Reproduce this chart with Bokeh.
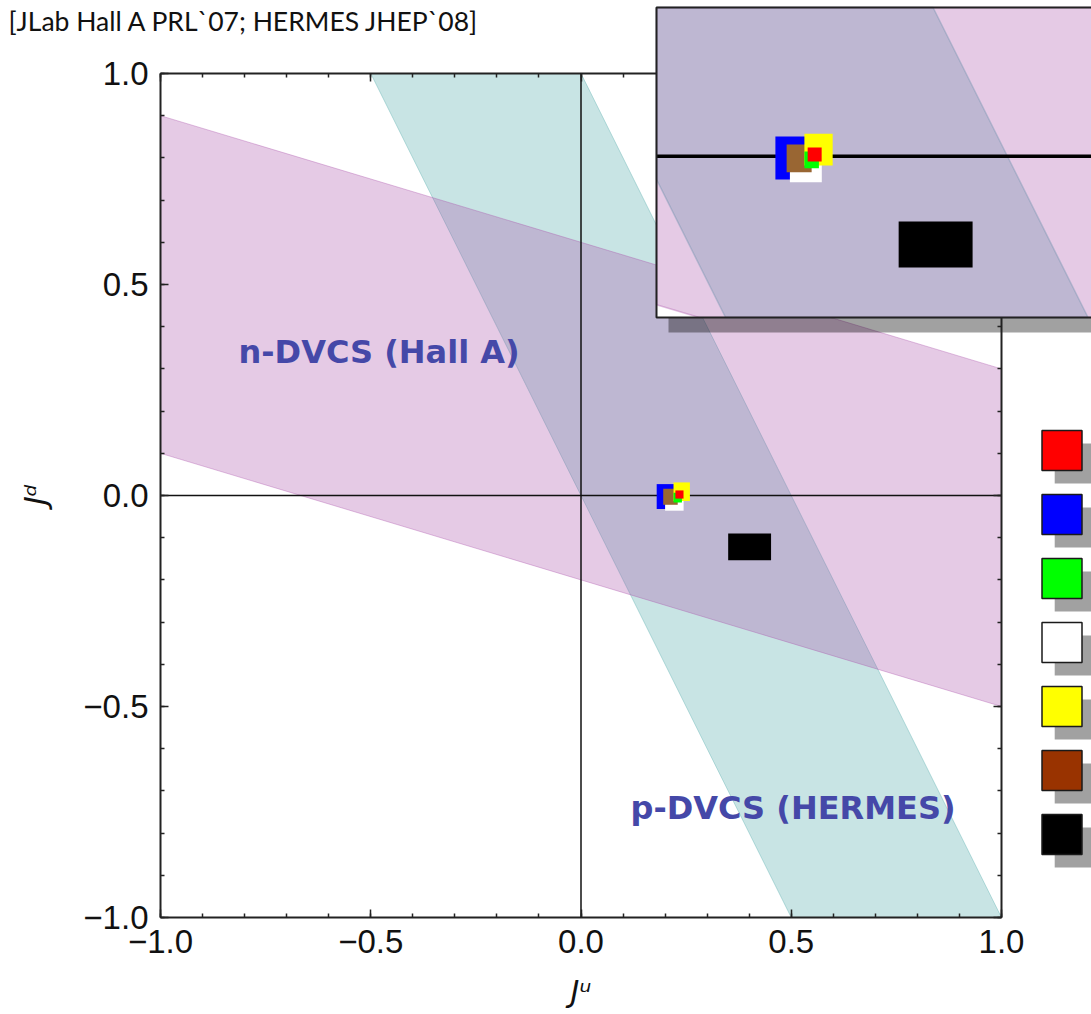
import numpy as np
from bokeh.plotting import figure
from bokeh.models import Range1d, LinearAxis, FixedTicker, CustomJSTickFormatter, Label
from bokeh.embed import file_html
from bokeh.resources import INLINE

# ---------------- data ----------------
title_text = "[JLab Hall A PRL`07; HERMES JHEP`08]"
x_title = "Jᵘ"
y_title = "Jᵈ"

# n-DVCS (Hall A) band:  J^d = slope * J^u + b,  b in intercepts
pink_slope = -0.3
pink_intercepts = [-0.2, 0.6]
# p-DVCS (HERMES) band
teal_slope = -2.0
teal_intercepts = [0.0, 1.0]

# error boxes (drawing order)
pt_colors = ["#0000ff", "#ffffff", "#996633", "#ffff00", "#00ff00", "#ff0000", "#000000"]
ju_lo = [0.180, 0.200, 0.1955, 0.220, 0.220, 0.2245, 0.350]
ju_hi = [0.240, 0.244, 0.230, 0.259, 0.240, 0.2438, 0.452]
jd_lo = [-0.032, -0.036, -0.022, -0.013, -0.0166, -0.0073, -0.1535]
jd_hi = [0.027, 0.008, 0.016, 0.031, 0.0065, 0.012, -0.090]

legend_colors = ["#ff0000", "#0000ff", "#00ff00", "#ffffff", "#ffff00", "#993300", "#000000"]

major_ticks = [-1.0, -0.5, 0.0, 0.5, 1.0]
minor_ticks = [round(v, 1) for v in np.arange(-1.0, 1.05, 0.1)]

band_labels = ["n-DVCS (Hall A)", "p-DVCS (HERMES)"]

# ---------------- geometry ----------------
W, H = 1091, 1014
XMIN, XMAX, YMIN, YMAX = -1.0, 1.0, -1.0, 1.0
SX, SY = 420.5, 422.0                 # px per unit in main plot
PX0, PY0 = 580.5, 495.0               # pixel of (0, 0)


def dx_(px):
    return (px - PX0) / SX


def dy_(py):
    return (PY0 - py) / SY


# inset box in main coords and its data window
box_l, box_b, box_r, box_t = dx_(656), dy_(317), dx_(1110), dy_(7)
ins_x0, ins_y0 = 0.016, -0.2225       # inset data at box left/bottom
ins_k = 725.0                          # inset px per unit


def inset_x(mx):
    return ins_x0 + (mx - box_l) * SX / ins_k


def inset_y(my):
    return ins_y0 + (my - box_b) * SY / ins_k


def clip_halfplane(poly, a, b, c):
    out = []
    n = len(poly)
    for i in range(n):
        P, Q = poly[i], poly[(i + 1) % n]
        fp = a * P[0] + b * P[1] - c
        fq = a * Q[0] + b * Q[1] - c
        if fp <= 0:
            out.append(P)
        if fp * fq < 0:
            t = fp / (fp - fq)
            out.append((P[0] + t * (Q[0] - P[0]), P[1] + t * (Q[1] - P[1])))
    return out


def band_polygon(slope, lo, hi, x0, x1, y0, y1):
    poly = [(x0, y0), (x1, y0), (x1, y1), (x0, y1)]
    poly = clip_halfplane(poly, slope, -1.0, -lo)
    poly = clip_halfplane(poly, -slope, 1.0, hi)
    return [q[0] for q in poly], [q[1] for q in poly]


TEAL, PINK = "#48a5a5", "#a84ea8"
BAND_ALPHA = 0.3
TEXT_BLUE = "#4548a8"

p = figure(width=W, height=H, output_backend="svg", toolbar_location=None,
           x_range=Range1d(dx_(0), dx_(W)), y_range=Range1d(dy_(H), dy_(0)),
           min_border_left=0, min_border_right=0, min_border_top=0, min_border_bottom=0)
p.grid.visible = False
p.outline_line_color = None

p.extra_x_ranges = {"inset": Range1d(inset_x(dx_(0)), inset_x(dx_(W)))}
p.extra_y_ranges = {"inset": Range1d(inset_y(dy_(H)), inset_y(dy_(0)))}

fmt = CustomJSTickFormatter(code="return tick.toFixed(1).replace('-', '\u2212');")


def style_axis(ax, majors, minors, show_labels=True):
    ax.ticker = FixedTicker(ticks=majors, minor_ticks=minors)
    ax.major_tick_in = 8
    ax.major_tick_out = 0
    ax.minor_tick_in = 4
    ax.minor_tick_out = 0
    ax.axis_line_width = 2
    ax.axis_line_color = "#222222"
    ax.major_tick_line_color = "#222222"
    ax.minor_tick_line_color = "#222222"
    ax.major_tick_line_width = 1.5
    ax.minor_tick_line_width = 1.5
    if show_labels:
        ax.formatter = fmt
        ax.major_label_text_font = "Liberation Sans"
        ax.major_label_text_font_size = "33px"
        ax.major_label_text_color = "#111111"
        ax.major_label_standoff = 12
    else:
        ax.major_label_text_font_size = "0px"
        ax.major_label_text_alpha = 0


bx, by = p.xaxis[0], p.yaxis[0]
style_axis(bx, major_ticks, minor_ticks)
style_axis(by, major_ticks, minor_ticks)
bx.fixed_location = YMIN
by.fixed_location = XMIN
bx.bounds = (XMIN, XMAX)
by.bounds = (YMIN, YMAX)

top_ax = LinearAxis(fixed_location=YMAX, bounds=(XMIN, box_l))
style_axis(top_ax, [t for t in major_ticks if t < box_l], [t for t in minor_ticks if t < box_l], False)
p.add_layout(top_ax, "above")
right_ax = LinearAxis(fixed_location=XMAX, bounds=(YMIN, box_b))
style_axis(right_ax, [t for t in major_ticks if t < box_b], [t for t in minor_ticks if t < box_b], False)
p.add_layout(right_ax, "right")

# ---------------- main plot ----------------
for slope, ints, col in [(teal_slope, teal_intercepts, TEAL), (pink_slope, pink_intercepts, PINK)]:
    xs, ys = band_polygon(slope, ints[0], ints[1], XMIN, XMAX, YMIN, YMAX)
    p.patch(xs, ys, fill_color=col, fill_alpha=BAND_ALPHA, line_color=col, line_alpha=0.35, line_width=1)

p.segment(x0=[XMIN, 0.0], y0=[0.0, YMIN], x1=[XMAX, 0.0], y1=[0.0, YMAX],
          line_color="#111111", line_width=1.5)

p.quad(left=ju_lo, right=ju_hi, bottom=jd_lo, top=jd_hi, fill_color=pt_colors, line_color=None)

# band labels
p.add_layout(Label(x=dx_(238), y=dy_(370), text=band_labels[0], text_font="DejaVu Sans",
                   text_font_style="bold", text_font_size="32px", text_color=TEXT_BLUE))
p.add_layout(Label(x=dx_(630), y=dy_(826), text=band_labels[1], text_font="DejaVu Sans",
                   text_font_style="bold", text_font_size="32px", text_color=TEXT_BLUE))

# title and axis titles
p.add_layout(Label(x=dx_(8), y=dy_(36), text=title_text, text_font="Lato",
                   text_font_size="26.5px", text_color="#111111"))
p.add_layout(Label(x=0.0, y=dy_(1008), text=x_title, text_font="DejaVu Sans",
                   text_font_style="italic", text_font_size="30px", text_color="#111111",
                   text_align="center"))
p.add_layout(Label(x=dx_(35), y=dy_(494), text=y_title, text_font="DejaVu Sans",
                   text_font_style="italic", text_font_size="30px", text_color="#111111",
                   text_align="center", text_baseline="middle", angle=np.pi / 2))

# ---------------- legend swatches ----------------
leg_x = dx_(1061.5)
leg_y = [dy_(450.0 + 64.0 * i) for i in range(len(legend_colors))]
p.rect(x=[leg_x + 12.7 / SX] * len(legend_colors), y=[v - 13.0 / SY for v in leg_y],
       width=40, height=40, width_units="screen", height_units="screen",
       fill_color="#000000", fill_alpha=0.37, line_color=None)
p.rect(x=[leg_x] * len(legend_colors), y=leg_y, width=40, height=40,
       width_units="screen", height_units="screen",
       fill_color=legend_colors, line_color="#1a1a1a", line_width=1.5)

# ---------------- inset ----------------
sdx, sdy = 12.0 / SX, 15.0 / SY
p.quad(left=[box_l + sdx], right=[box_r + sdx], bottom=[box_b - sdy], top=[box_t - sdy],
       fill_color="#000000", fill_alpha=0.37, line_color=None)
p.quad(left=[box_l], right=[box_r], bottom=[box_b], top=[box_t], fill_color="white", line_color=None)

wx0, wx1 = inset_x(box_l), inset_x(box_r)
wy0, wy1 = inset_y(box_b), inset_y(box_t)
for slope, ints, col in [(teal_slope, teal_intercepts, TEAL), (pink_slope, pink_intercepts, PINK)]:
    xs, ys = band_polygon(slope, ints[0], ints[1], wx0, wx1, wy0, wy1)
    if len(xs) > 2:
        p.patch(xs, ys, fill_color=col, fill_alpha=BAND_ALPHA, line_color=col, line_alpha=0.35,
                line_width=1.5, x_range_name="inset", y_range_name="inset")

p.segment(x0=[wx0], y0=[0.0], x1=[wx1], y1=[0.0], line_color="#000000", line_width=3.5,
          x_range_name="inset", y_range_name="inset")
p.quad(left=ju_lo, right=ju_hi, bottom=jd_lo, top=jd_hi, fill_color=pt_colors, line_color=None,
       x_range_name="inset", y_range_name="inset")

p.quad(left=[box_l], right=[box_r], bottom=[box_b], top=[box_t], fill_color=None,
       line_color="#222222", line_width=2)

open("out.html", "w").write(file_html(p, INLINE))
